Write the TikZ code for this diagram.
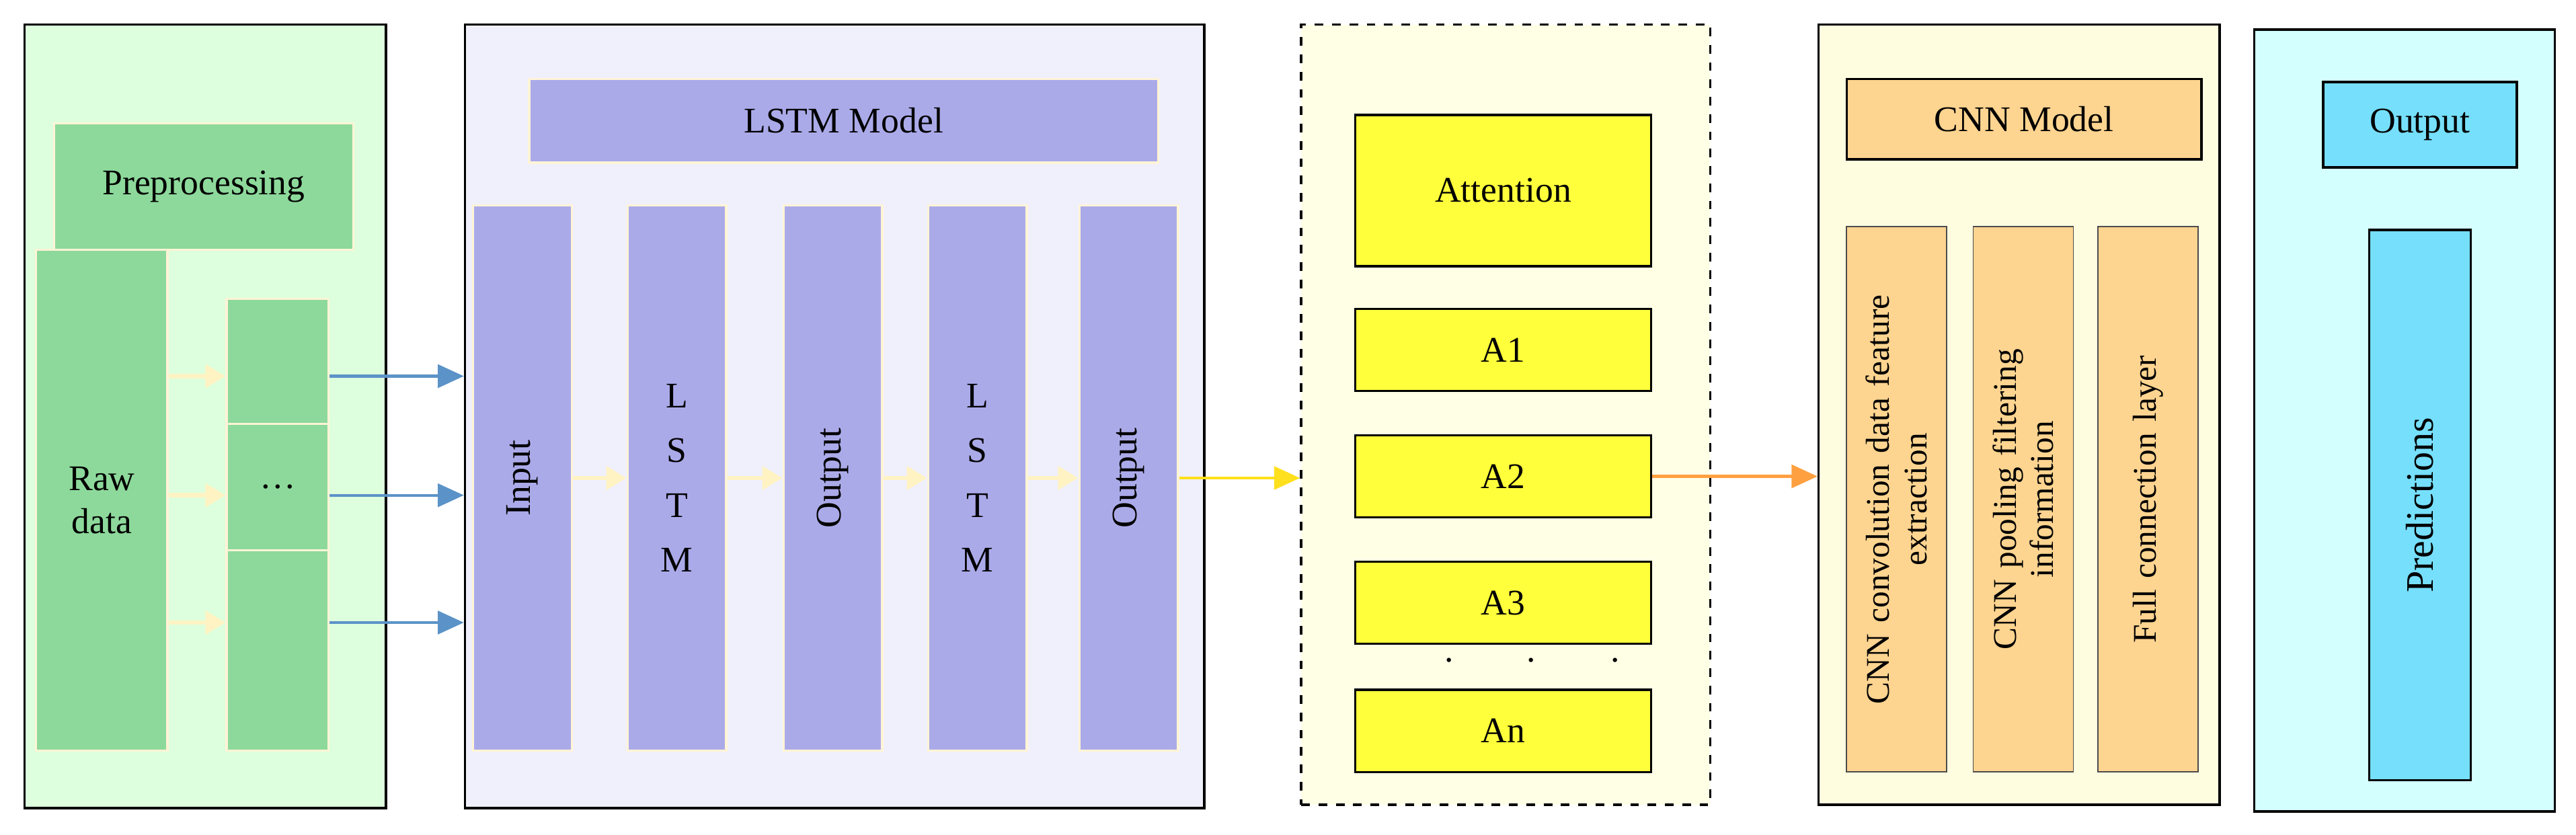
\documentclass[tikz,border=0pt]{standalone}
\usepackage{fontspec}
\setmainfont{Liberation Serif}
\usepackage{xcolor}
\usetikzlibrary{arrows.meta,positioning,calc}

\definecolor{pregreen}{HTML}{DDFFDD}
\definecolor{boxgreen}{HTML}{8DD99B}
\definecolor{lstmbg}{HTML}{F0F0FC}
\definecolor{boxlstm}{HTML}{ABAAE9}
\definecolor{attbg}{HTML}{FFFFE6}
\definecolor{boxatt}{HTML}{FFFF3C}
\definecolor{cnnbg}{HTML}{FFFDE0}
\definecolor{boxcnn}{HTML}{FDD490}
\definecolor{outbg}{HTML}{D4FFFF}
\definecolor{boxout}{HTML}{76DFFC}
\definecolor{cream}{HTML}{FFF4D6}
\definecolor{arrlight}{HTML}{FFF3C4}
\definecolor{arrblue}{HTML}{5B93C8}
\definecolor{arryel}{HTML}{FFE01E}
\definecolor{arrorg}{HTML}{FFA040}

\begin{document}
\begin{tikzpicture}[x=0.02cm, y=-0.02cm, font=\fontsize{12.5}{15}\selectfont,
    panel/.style={rectangle, draw, thick, inner sep=0pt},
    blk/.style={rectangle, draw=cream, thick, inner sep=0pt, text centered},
    vblk/.style={blk, rotate=90},
    ablk/.style={rectangle, draw, thick, fill=boxatt, minimum width=3.6cm, minimum height=1cm},
    cblk/.style={rectangle, draw=black!70, fill=boxcnn, rotate=90, minimum width=6.64cm, minimum height=1.22cm, text width=6.4cm, align=center, font=\fontsize{11.5}{13}\selectfont},
    lightarr/.style={-{Triangle[width=8pt,length=7pt]}, arrlight, line width=1.5pt},
    linkarr/.style={-{Triangle[width=8pt,length=9pt]}, line width=1pt}]

    \useasboundingbox (0,0) rectangle (1568,508);

    % preprocessing
    \node[panel, fill=pregreen, minimum width=4.4cm, minimum height=9.54cm] (prep) at (125,253.5) {};
    \node[blk, fill=boxgreen, minimum width=3.64cm, minimum height=1.54cm] (pretitle) at (124,113.5) {Preprocessing};
    \node[blk, fill=boxgreen, minimum width=1.6cm, minimum height=6.1cm, text width=1.4cm] (raw) at (62,304.5) {Raw\\data};
    \node[blk, fill=boxgreen, minimum width=1.24cm, minimum height=1.52cm] (s1) at (169,220) {};
    \node[blk, fill=boxgreen, minimum width=1.24cm, minimum height=1.54cm] (s2) at (169,296.5) {\dots};
    \node[blk, fill=boxgreen, minimum width=1.24cm, minimum height=2.44cm] (s3) at (169,396) {};
    \coordinate (r1) at ($(s1.west)+(0,9)$);
    \coordinate (r2) at ($(s2.west)+(0,5)$);
    \coordinate (r3) at ($(s3.west)+(0,-17)$);

    % lstm
    \node[panel, fill=lstmbg, minimum width=9.0cm, minimum height=9.54cm] (lstmpanel) at (508,253.5) {};
    \node[blk, fill=boxlstm, minimum width=7.66cm, minimum height=1.02cm] (lstmtitle) at (513.5,73.5) {LSTM Model};
    \node[vblk, fill=boxlstm, minimum width=6.64cm, minimum height=1.2cm] (inp) at (318,291) {Input};
    \node[blk, fill=boxlstm, minimum width=1.2cm, minimum height=6.64cm, text width=1cm] (l1) at (412,291) {L\\[4pt]S\\[4pt]T\\[4pt]M};
    \node[vblk, fill=boxlstm, minimum width=6.64cm, minimum height=1.2cm] (o1) at (507,291) {Output};
    \node[blk, fill=boxlstm, minimum width=1.2cm, minimum height=6.64cm, text width=1cm] (l2) at (595,291) {L\\[4pt]S\\[4pt]T\\[4pt]M};
    \node[vblk, fill=boxlstm, minimum width=6.64cm, minimum height=1.2cm] (o2) at (687,291) {Output};

    % attention
    \node[panel, dashed, fill=attbg, minimum width=4.98cm, minimum height=9.5cm] (attpanel) at (916.5,252.5) {};
    \node[ablk, minimum height=1.84cm] (att) at (915,116) {Attention};
    \node[ablk] (a1) at (915,213) {A1};
    \node[ablk] (a2) at (915,290) {A2};
    \node[ablk] (a3) at (915,367) {A3};
    \node[ablk] (an) at (915,445) {An};
    \foreach \dx in {882,932,983}
        \node[inner sep=0pt] at (\dx,402) {.};

    % cnn
    \node[panel, fill=cnnbg, minimum width=4.88cm, minimum height=9.5cm] (cnnpanel) at (1229,252.5) {};
    \node[rectangle, draw, thick, fill=boxcnn, minimum width=4.32cm, minimum height=0.98cm] (cnntitle) at (1232,72.5) {CNN Model};
    \node[cblk] (c1) at (1154.5,304) {CNN convolution data feature\\extraction};
    \node[cblk] (c2) at (1231.5,304) {CNN pooling filtering\\information};
    \node[cblk] (c3) at (1307.5,304) {Full connection layer};

    % output
    \node[panel, fill=outbg, minimum width=3.66cm, minimum height=9.52cm] (outpanel) at (1463.5,256) {};
    \node[rectangle, draw, thick, fill=boxout, minimum width=2.36cm, minimum height=1.04cm] (outtitle) at (1473,76) {Output};
    \node[rectangle, draw, thick, fill=boxout, rotate=90, minimum width=6.7cm, minimum height=1.24cm, font=\fontsize{13.5}{15}\selectfont] (pred) at (1473,307.5) {Predictions};

    \draw[lightarr] (raw.east |- r1) -- (r1);
    \draw[lightarr] (raw.east |- r2) -- (r2);
    \draw[lightarr] (raw.east |- r3) -- (r3);
    \draw[linkarr, arrblue] (s1.east |- r1) -- (lstmpanel.west |- r1);
    \draw[linkarr, arrblue] (s2.east |- r2) -- (lstmpanel.west |- r2);
    \draw[linkarr, arrblue] (s3.east |- r3) -- (lstmpanel.west |- r3);

    \draw[lightarr] (inp.south) -- (l1.west);
    \draw[lightarr] (l1.east) -- (o1.north);
    \draw[lightarr] (o1.south) -- (l2.west);
    \draw[lightarr] (l2.east) -- (o2.north);
    \draw[linkarr, arryel] (o2.south) -- (attpanel.west |- o2.south);
    \draw[linkarr, arrorg] (a2.east) -- (cnnpanel.west |- a2);

\end{tikzpicture}
\end{document}
